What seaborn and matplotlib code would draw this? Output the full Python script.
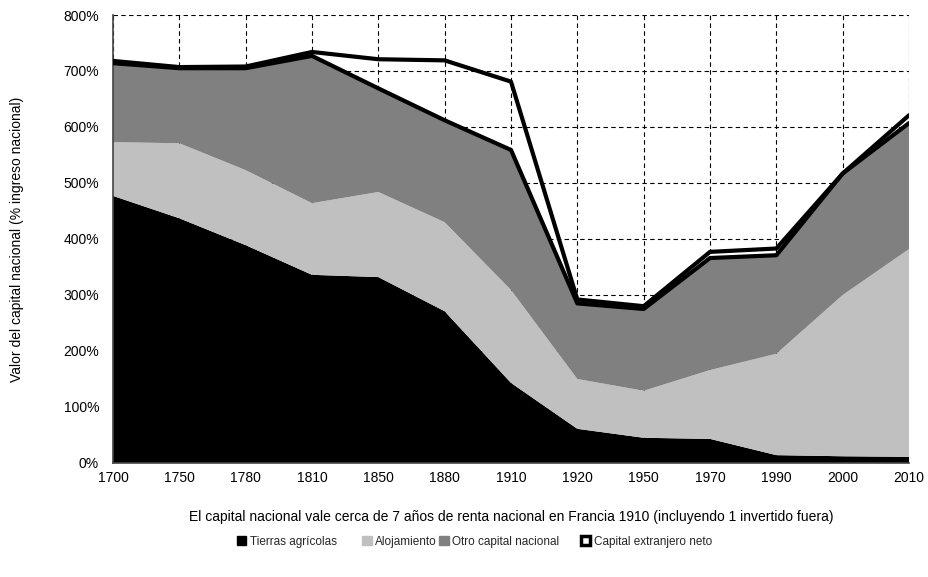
import numpy as np
import pandas as pd
import matplotlib
matplotlib.use("Agg")
import matplotlib.pyplot as plt
import seaborn as sns
from matplotlib.patches import Patch

# data (% of national income)
years = ["1700", "1750", "1780", "1810", "1850", "1880", "1910",
         "1920", "1950", "1970", "1990", "2000", "2010"]
tierras = [477, 437, 389, 336, 332, 271, 143, 61, 45, 43, 14, 12, 11]
alojamiento = [96, 134, 134, 128, 152, 159, 166, 89, 84, 123, 181, 288, 371]
otro = [141, 134, 182, 263, 185, 182, 250, 135, 146, 200, 176, 217, 225]
extranjero = [4, 2, 3, 7, 52, 107, 122, 7, 5, 11, 12, 0, 14]

sns.set_theme(style="white")
plt.rcParams["font.family"] = ["Liberation Sans", "DejaVu Sans"]

df = pd.DataFrame({"year": years, "tierras": tierras, "alojamiento": alojamiento,
                   "otro": otro, "extranjero": extranjero})
df["x"] = np.arange(len(df))
df["domestico"] = df["tierras"] + df["alojamiento"] + df["otro"]
df["total"] = df["domestico"] + df["extranjero"]

fig = plt.figure(figsize=(9.29, 5.77), dpi=100)
ax = fig.add_axes([0.1216, 0.1976, 0.8569, 0.7764])

# grid below the areas
ax.set_axisbelow(True)
ax.grid(True, color="black", linestyle=(0, (4, 3)), linewidth=0.8)

ax.stackplot(df["x"], df["tierras"], df["alojamiento"], df["otro"],
             colors=["#000000", "#c0c0c0", "#808080"], linewidth=0,
             edgecolor="none", zorder=2)

sns.lineplot(data=df, x="x", y="total", color="black", linewidth=3,
             ax=ax, zorder=4)
sns.lineplot(data=df, x="x", y="domestico", color="black", linewidth=3,
             ax=ax, zorder=4)

ax.set_xlim(0, len(years) - 1)
ax.set_ylim(0, 800)
ax.set_xticks(df["x"])
ax.set_xticklabels(years)
ax.set_yticks(range(0, 801, 100))
ax.set_yticklabels([f"{v}%" for v in range(0, 801, 100)])
ax.tick_params(axis="both", labelsize=10, colors="black", length=4,
               direction="out", width=0.8)
ax.tick_params(axis="x", pad=2)
ax.tick_params(axis="y", pad=6)
ax.tick_params(axis="both", color="#444444")

for side in ["top", "right"]:
    ax.spines[side].set_visible(False)
for side in ["left", "bottom"]:
    ax.spines[side].set_color("#444444")
    ax.spines[side].set_linewidth(1.2)

ax.set_xlabel("El capital nacional vale cerca de 7 años de renta nacional en Francia 1910 (incluyendo 1 invertido fuera)",
              fontsize=10, color="black", labelpad=18)
ax.set_ylabel("Valor del capital nacional (% ingreso nacional)",
              fontsize=10, color="black", labelpad=28)

# legend entries placed individually to match spacing
entries = [
    ("Tierras agrícolas", Patch(facecolor="#000000", edgecolor="#000000"), 0.255),
    ("Alojamiento", Patch(facecolor="#c0c0c0", edgecolor="#c0c0c0"), 0.390),
    ("Otro capital nacional", Patch(facecolor="#808080", edgecolor="#808080"), 0.473),
    ("Capital extranjero neto", Patch(facecolor="white", edgecolor="black", linewidth=2.5), 0.625),
]
for label, handle, xpos in entries:
    fig.legend(handles=[handle], labels=[label], loc="center left",
               bbox_to_anchor=(xpos, 0.061), frameon=False, fontsize=8.5,
               handlelength=0.8, handleheight=0.8, handletextpad=0.3,
               borderaxespad=0, borderpad=0)

fig.savefig("out.png", dpi=100)
